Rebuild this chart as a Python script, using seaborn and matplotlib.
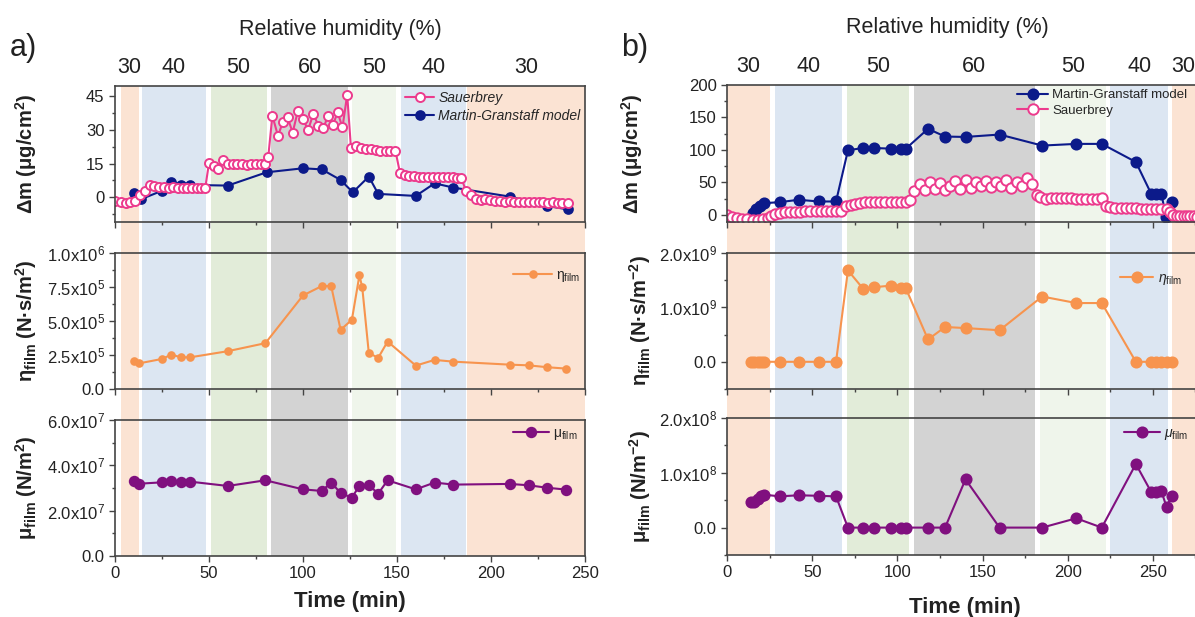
import numpy as np
import matplotlib
matplotlib.use('Agg')
import matplotlib.pyplot as plt
import seaborn as sns
from matplotlib.ticker import MultipleLocator, FuncFormatter

# ---------------- data: panel a ----------------
a_band_start = [3, 14.6, 50.9, 83.2, 126, 152, 187]
a_band_end = [12.5, 48.2, 80.6, 124, 149.7, 186.6, 250]
rh_labels = ['30', '40', '50', '60', '50', '40', '30']

a_sb_t = [0, 3, 5.7, 8.2, 10.6, 13.3, 15.7, 18.8, 21, 23.5, 26, 28.5, 31, 33.5, 36, 38.5, 41, 43.5, 46, 48,
          50, 52.5, 55, 57.5, 60, 62.5, 65, 67.5, 70, 72.5, 75, 77.5, 80, 81.5,
          83.7, 86.7, 89.2, 91.8, 94.5, 97.3, 100, 102.7, 105.5, 108.2, 110.8, 113.3, 115.9, 118.4, 121, 123.5,
          125.5, 128, 130.8, 133.3, 136, 138.6, 141.2, 143.9, 146.5, 149.2,
          151.6, 154, 156.5, 159, 161.6, 164, 166.7, 169.4, 171.8, 174.3, 177, 179.6, 182, 184.3,
          186.7, 189.4, 191.8, 194.5, 197, 199.6, 202.2, 204.7, 207.3, 210, 212.4, 215, 217.5, 220,
          222.7, 225.3, 227.8, 230.4, 233, 235.5, 238, 240.8]
a_sb_v = [-1.7, -2.0, -2.7, -2.2, -1.7, 0.9, 3.0, 5.5, 4.8, 4.5, 4.4, 4.3, 4.4, 4.3, 4.2, 4.3, 4.2, 4.2, 4.1, 4.1,
          15.3, 14.0, 12.6, 16.5, 15.0, 14.7, 14.6, 14.7, 14.5, 14.6, 14.7, 14.8, 15.0, 17.8,
          36.3, 27.3, 33.3, 35.5, 28.8, 38.5, 34.8, 29.9, 37.1, 31.8, 30.6, 36.3, 32.1, 37.8, 31.1, 45.6,
          22.1, 22.8, 21.9, 21.4, 21.3, 21.1, 20.8, 20.7, 20.5, 20.5,
          10.8, 10.0, 9.5, 9.3, 9.2, 9.1, 9.0, 9.0, 8.9, 8.9, 8.8, 8.8, 8.6, 8.4,
          2.8, 0.9, -0.6, -1.4, -0.8, -1.4, -1.6, -1.7, -1.9, -1.8, -2.0, -2.2, -2.0, -2.2,
          -2.2, -2.3, -2.2, -2.4, -2.3, -2.5, -2.5, -2.5]

a_mg_t = [10, 13.7, 25, 30, 35, 40, 60, 80.6, 100, 110, 120, 126.5, 135, 140, 160, 170, 180, 210, 230, 241]
a_mg_v = [2.0, -0.9, 2.9, 6.9, 5.5, 5.5, 5.2, 11.1, 12.9, 12.4, 7.7, 2.2, 9.2, 1.5, 0.6, 6.2, 4.3, 0.3, -3.9, -5.4]

a_eta_t = [10, 13, 25, 30, 35, 40, 60, 80, 100, 110, 115, 120, 126, 130, 131.5, 135, 140, 145, 160, 170, 180,
           210, 220, 230, 240]
a_eta_v = [2.09e5, 1.89e5, 2.21e5, 2.53e5, 2.33e5, 2.33e5, 2.78e5, 3.37e5, 6.88e5, 7.57e5, 7.57e5, 4.35e5,
           5.09e5, 8.35e5, 7.49e5, 2.65e5, 2.29e5, 3.49e5, 1.72e5, 2.14e5, 2.01e5, 1.79e5, 1.74e5, 1.60e5, 1.50e5]

a_mu_t = [10, 13, 25, 30, 35, 40, 60, 80, 100, 110, 115, 120, 126, 130, 135, 140, 145, 160, 170, 180,
          210, 220, 230, 240]
a_mu_v = [3.29e7, 3.19e7, 3.25e7, 3.32e7, 3.26e7, 3.28e7, 3.09e7, 3.34e7, 2.94e7, 2.87e7, 3.24e7, 2.78e7,
          2.57e7, 3.10e7, 3.13e7, 2.75e7, 3.34e7, 2.94e7, 3.24e7, 3.15e7, 3.18e7, 3.12e7, 3.01e7, 2.93e7]

# ---------------- data: panel b ----------------
b_band_start = [0, 28, 70.2, 109.6, 183.6, 225, 261.3]
b_band_end = [25, 67.3, 106.7, 180.7, 222.4, 258.9, 280]

b_mg_t = [15, 17, 19.6, 22, 31, 42, 54, 64, 71, 80, 86, 96, 102, 105, 118, 128, 140, 160, 185, 205, 220,
          240, 249, 252, 255, 257.6, 261]
b_mg_v = [2.6, 8.8, 12.9, 18.0, 19.6, 23.2, 20.6, 20.6, 99.5, 103, 103, 102, 102, 102, 132.5, 120.6, 120,
          123.7, 106.7, 109.3, 109.3, 81.4, 32.5, 32.5, 32.5, -2.6, 19.6]

b_sb_t = [0, 3, 6, 9, 12, 15, 18, 21, 24, 26, 28, 31, 34, 37, 40, 43, 46, 49, 52, 55, 58, 61, 64, 67,
          70, 72.5, 75, 78, 81, 84, 87, 90, 93, 96, 99, 102, 105, 107.5,
          110, 113, 116, 119, 122, 125, 128, 131, 134, 137, 140, 143, 146, 149, 152, 155, 158, 161, 164, 167,
          170, 173, 176, 179,
          182, 184, 187, 190, 193, 196, 199, 202, 205, 208, 211, 214, 217, 220,
          222.5, 225, 228, 231, 234, 237, 240, 243, 246, 249, 252, 255, 258,
          260, 262, 264, 266, 268, 270, 272, 274, 276, 278]
b_sb_v = [0, -3, -5, -6, -7, -7.5, -7.5, -7, -5, -1, 2, 3.5, 4, 4.5, 5, 5, 5.2, 5.2, 5.3, 5.3, 5.4, 5.5, 5.5, 6,
          13, 15, 17, 19, 19.5, 20, 20, 20, 20, 20, 20, 20, 20.5, 23,
          36, 47, 38, 50, 40, 49, 38, 44, 52, 40, 53, 42, 50, 44, 52, 43, 50, 45, 54, 42,
          50, 44, 57, 47,
          31, 27, 25, 26, 26, 26, 25.5, 25.5, 25, 25, 25, 25, 25, 25.5,
          14, 11.5, 10.5, 10, 10, 10, 9.8, 9.5, 9.5, 9.5, 9.3, 9, 8.5,
          4, 0.5, -1, -1.5, -2, -2.5, -2.5, -2.5, -3, -3]

b_par_t = [14, 16, 18, 20, 22, 31, 42, 54, 64, 71, 80, 86, 96, 102, 105, 118, 128, 140, 160, 185, 205, 220,
           240, 249, 252, 255, 258, 261]
b_eta_v = [0, 0, 0, 0, 0, 0, 0, 0, 0, 1.68e9, 1.34e9, 1.37e9, 1.40e9, 1.36e9, 1.35e9, 0.41e9, 0.64e9,
           0.62e9, 0.58e9, 1.20e9, 1.08e9, 1.08e9, 0, 0, 0, 0, 0, 0]
b_mu_v = [0.46e8, 0.47e8, 0.52e8, 0.57e8, 0.60e8, 0.57e8, 0.59e8, 0.58e8, 0.57e8, 0, 0, 0, 0, 0, 0, 0, 0,
          0.88e8, 0, 0, 0.17e8, 0, 1.16e8, 0.65e8, 0.65e8, 0.66e8, 0.38e8, 0.58e8]

band_colors = ['#fbe3d3', '#dce6f2', '#e2ecd9', '#d3d3d3', '#eff5eb', '#dce6f2', '#fbe3d3']

PINK = '#ec3b8d'
NAVY = '#0c1a8a'
ORANGE = '#f7944e'
PURPLE = '#80107f'
AXC = '#444444'

sns.set_style('ticks')
plt.rcParams['font.family'] = ['Liberation Sans', 'DejaVu Sans']
plt.rcParams['mathtext.fontset'] = 'custom'
plt.rcParams['mathtext.rm'] = 'Liberation Sans'
plt.rcParams['mathtext.it'] = 'Liberation Sans:italic'
plt.rcParams['mathtext.bf'] = 'Liberation Sans:bold'

W, H = 1195, 617
fig = plt.figure(figsize=(W / 100, H / 100), dpi=100)


def rect(l, r, t, b):
    return [l / W, 1 - b / H, (r - l) / W, (b - t) / H]


def sci(v, pos):
    if abs(v) < 1e-12:
        return '0.0'
    e = int(np.floor(np.log10(abs(v)) + 1e-9))
    return f'{v / 10 ** e:.1f}x10$^{{{e}}}$'


def style(ax, xlim, xlab):
    ax.set_facecolor('none')
    ax.set_xlim(*xlim)
    ax.xaxis.set_major_locator(MultipleLocator(50))
    ax.xaxis.set_minor_locator(MultipleLocator(25))
    for s in ax.spines.values():
        s.set_color(AXC)
        s.set_linewidth(1.2)
        s.set_visible(True)
    ax.tick_params(which='both', direction='out', color=AXC, width=1, labelsize=12, labelcolor='#222222')
    ax.tick_params(which='major', length=4)
    ax.tick_params(which='minor', length=2.5)
    if not xlab:
        ax.tick_params(axis='x', labelbottom=False)
    ax.set_xlabel('')
    ax.grid(False)


def line(ax, t, v, color, face, ms, lab, mew=1.2):
    sns.lineplot(x=t, y=v, ax=ax, color=color, marker='o', markersize=ms, markerfacecolor=face,
                 markeredgecolor=color, markeredgewidth=mew, linewidth=1.5, label=lab,
                 sort=False, estimator=None)


def panel(left, right, rows, xlim, starts, ends, visible_end):
    bg = fig.add_axes(rect(left, right, rows[0][0], rows[2][1]))
    bg.set_zorder(0)
    bg.set_xlim(*xlim)
    bg.set_ylim(0, 1)
    bg.axis('off')
    for s, e, c in zip(starts, ends, band_colors):
        bg.axvspan(s, e, color=c, lw=0)
    axs = []
    for i, (t, b) in enumerate(rows):
        ax = fig.add_axes(rect(left, right, t, b))
        ax.set_zorder(1)
        style(ax, xlim, i == 2)
        axs.append(ax)
    # humidity labels sit in the middle of the visible part of each band
    centers = [(s + min(e, visible_end)) / 2 for s, e in zip(starts, ends)]
    sec = axs[0].secondary_xaxis('top')
    sec.set_xticks(centers)
    sec.set_xticklabels(rh_labels)
    sec.tick_params(length=0, labelsize=15.5, pad=6, labelcolor='#222222')
    sec.spines['top'].set_visible(False)
    return axs


rows_a = [(86, 222), (253, 389), (420, 556)]
rows_b = [(85, 222), (253, 389), (418, 555)]
ax1, ax2, ax3 = panel(115, 585, rows_a, (0, 250), a_band_start, a_band_end, 250)
bx1, bx2, bx3 = panel(727, 1204, rows_b, (0, 280), b_band_start, b_band_end, 274.5)

# ---- panel a ----
line(ax1, a_mg_t, a_mg_v, NAVY, NAVY, 6.5, 'Martin-Granstaff model')
line(ax1, a_sb_t, a_sb_v, PINK, 'white', 6.5, 'Sauerbrey', mew=1.4)
ax1.set_ylim(-11, 49.5)
ax1.set_yticks([0, 15, 30, 45])
ax1.yaxis.set_minor_locator(MultipleLocator(7.5))
h, l = ax1.get_legend_handles_labels()
ax1.legend([h[1], h[0]], [l[1], l[0]], loc='upper left', bbox_to_anchor=(0.617, 0.965), frameon=False,
           borderpad=0, borderaxespad=0, handlelength=2.1, handletextpad=0.3, labelspacing=0.3,
           prop={'style': 'italic', 'size': 10})

line(ax2, a_eta_t, a_eta_v, ORANGE, ORANGE, 5, 'η$_{\\mathrm{film}}$')
ax2.set_ylim(0, 1e6)
ax2.set_yticks([0, 2.5e5, 5e5, 7.5e5, 1e6])
ax2.yaxis.set_minor_locator(MultipleLocator(1.25e5))
ax2.yaxis.set_major_formatter(FuncFormatter(sci))
ax2.legend(loc='upper left', bbox_to_anchor=(0.847, 0.89), frameon=False, borderpad=0, borderaxespad=0,
           handlelength=2.8, handletextpad=0.3, fontsize=10)

line(ax3, a_mu_t, a_mu_v, PURPLE, PURPLE, 7, 'μ$_{\\mathrm{film}}$')
ax3.set_ylim(0, 6e7)
ax3.set_yticks([0, 2e7, 4e7, 6e7])
ax3.yaxis.set_minor_locator(MultipleLocator(1e7))
ax3.yaxis.set_major_formatter(FuncFormatter(sci))
ax3.legend(loc='upper left', bbox_to_anchor=(0.847, 0.955), frameon=False, borderpad=0, borderaxespad=0,
           handlelength=2.6, handletextpad=0.3, fontsize=10)

# ---- panel b ----
line(bx1, b_mg_t, b_mg_v, NAVY, NAVY, 7.5, 'Martin-Granstaff model')
line(bx1, b_sb_t, b_sb_v, PINK, 'white', 7.5, 'Sauerbrey', mew=1.4)
bx1.set_ylim(-11, 200)
bx1.set_yticks([0, 50, 100, 150, 200])
bx1.yaxis.set_minor_locator(MultipleLocator(25))
bx1.legend(loc='upper left', bbox_to_anchor=(0.608, 0.97), frameon=False, borderpad=0, borderaxespad=0,
           handlelength=2.35, handletextpad=0.3, labelspacing=0.25, fontsize=9.5)

line(bx2, b_par_t, b_eta_v, ORANGE, ORANGE, 7.5, '$\\mathit{\\eta}_{\\mathrm{film}}$')
bx2.set_ylim(-0.5e9, 2e9)
bx2.set_yticks([0, 1e9, 2e9])
bx2.yaxis.set_minor_locator(MultipleLocator(5e8))
bx2.yaxis.set_major_formatter(FuncFormatter(sci))
bx2.legend(loc='upper left', bbox_to_anchor=(0.824, 0.87), frameon=False, borderpad=0, borderaxespad=0,
           handlelength=2.4, handletextpad=0.3, fontsize=10)

line(bx3, b_par_t, b_mu_v, PURPLE, PURPLE, 7.5, '$\\mathit{\\mu}_{\\mathrm{film}}$')
bx3.set_ylim(-0.5e8, 2e8)
bx3.set_yticks([0, 1e8, 2e8])
bx3.yaxis.set_minor_locator(MultipleLocator(5e7))
bx3.yaxis.set_major_formatter(FuncFormatter(sci))
bx3.legend(loc='upper left', bbox_to_anchor=(0.832, 0.945), frameon=False, borderpad=0, borderaxespad=0,
           handlelength=2.6, handletextpad=0.3, fontsize=10)

# ---- axis labels ----
ylab_kw = dict(fontsize=14.5, fontweight='bold', color='#222222')
ax1.set_ylabel('Δm (μg/cm$^{\\mathbf{2}}$)', **ylab_kw)
ax2.set_ylabel('η$_{\\mathbf{film}}$ (N·s/m$^{\\mathbf{2}}$)', **ylab_kw)
ax3.set_ylabel('μ$_{\\mathbf{film}}$ (N/m$^{\\mathbf{2}}$)', **ylab_kw)
for ax in (ax1, ax2, ax3):
    ax.yaxis.set_label_coords(-0.162, 0.5)
bx1.set_ylabel('Δm (μg/cm$^{\\mathbf{2}}$)', **ylab_kw)
bx2.set_ylabel('η$_{\\mathbf{film}}$ (N·s/m$^{\\mathbf{-2}}$)', **ylab_kw)
bx3.set_ylabel('μ$_{\\mathbf{film}}$ (N/m$^{\\mathbf{-2}}$)', **ylab_kw)
bx1.yaxis.set_label_coords(-0.172, 0.5)
bx2.yaxis.set_label_coords(-0.155, 0.5)
bx3.yaxis.set_label_coords(-0.155, 0.5)

fig.text(350 / W, 1 - 601 / H, 'Time (min)', ha='center', va='center', fontsize=16, fontweight='bold',
         color='#222222')
fig.text(965 / W, 1 - 607 / H, 'Time (min)', ha='center', va='center', fontsize=16, fontweight='bold',
         color='#222222')
fig.text(340 / W, 1 - 30 / H, 'Relative humidity (%)', ha='center', va='center', fontsize=15.5, color='#222222')
fig.text(947 / W, 1 - 27 / H, 'Relative humidity (%)', ha='center', va='center', fontsize=15.5, color='#222222')
fig.text(23 / W, 1 - 48 / H, 'a)', ha='center', va='center', fontsize=22, color='#222222')
fig.text(635 / W, 1 - 48 / H, 'b)', ha='center', va='center', fontsize=22, color='#222222')

fig.savefig('out.png', dpi=100, facecolor='white')
